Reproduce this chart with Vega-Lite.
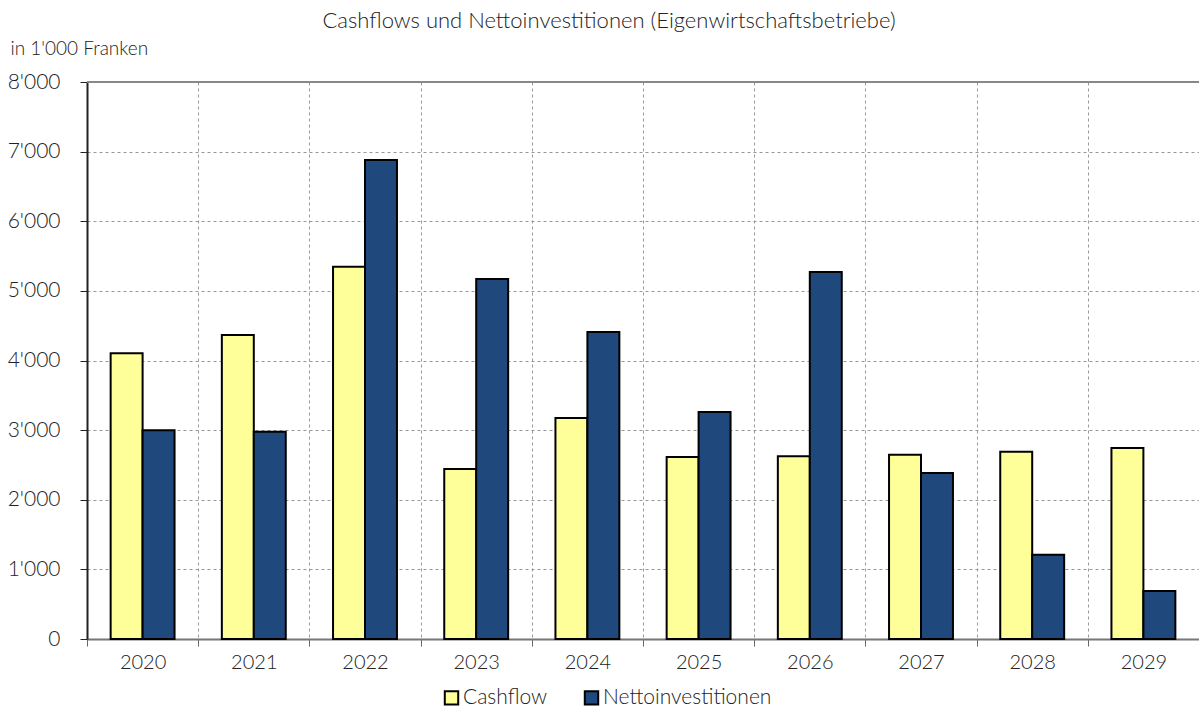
{
  "$schema": "https://vega.github.io/schema/vega-lite/v6.json",
  "width": 1112,
  "height": 557,
  "autosize": {"type": "none"},
  "padding": {"left": 87, "top": 82, "right": 0, "bottom": 71},
  "background": "white",
  "title": {
    "text": "Cashflows und Nettoinvestitionen (Eigenwirtschaftsbetriebe)",
    "fontSize": 22,
    "font": "Lato",
    "fontWeight": 300,
    "color": "#222",
    "anchor": "middle",
    "dx": -34,
    "offset": 6
  },
  "config": {
    "font": "Lato",
    "view": {"stroke": null},
    "axis": {"labelFont": "Lato", "titleFont": "Lato", "labelFontWeight": 300}
  },
  "data": {
    "values": [
      {"Jahr": "2020", "Serie": "Cashflow", "Wert": 4105},
      {"Jahr": "2020", "Serie": "Nettoinvestitionen", "Wert": 3000},
      {"Jahr": "2021", "Serie": "Cashflow", "Wert": 4365},
      {"Jahr": "2021", "Serie": "Nettoinvestitionen", "Wert": 2975},
      {"Jahr": "2022", "Serie": "Cashflow", "Wert": 5345},
      {"Jahr": "2022", "Serie": "Nettoinvestitionen", "Wert": 6880},
      {"Jahr": "2023", "Serie": "Cashflow", "Wert": 2440},
      {"Jahr": "2023", "Serie": "Nettoinvestitionen", "Wert": 5170},
      {"Jahr": "2024", "Serie": "Cashflow", "Wert": 3175},
      {"Jahr": "2024", "Serie": "Nettoinvestitionen", "Wert": 4410},
      {"Jahr": "2025", "Serie": "Cashflow", "Wert": 2615},
      {"Jahr": "2025", "Serie": "Nettoinvestitionen", "Wert": 3260},
      {"Jahr": "2026", "Serie": "Cashflow", "Wert": 2625},
      {"Jahr": "2026", "Serie": "Nettoinvestitionen", "Wert": 5270},
      {"Jahr": "2027", "Serie": "Cashflow", "Wert": 2645},
      {"Jahr": "2027", "Serie": "Nettoinvestitionen", "Wert": 2385},
      {"Jahr": "2028", "Serie": "Cashflow", "Wert": 2690},
      {"Jahr": "2028", "Serie": "Nettoinvestitionen", "Wert": 1210},
      {"Jahr": "2029", "Serie": "Cashflow", "Wert": 2745},
      {"Jahr": "2029", "Serie": "Nettoinvestitionen", "Wert": 690}
    ]
  },
  "layer": [
    {
      "mark": {"type": "bar", "stroke": "black", "strokeWidth": 2},
      "encoding": {
        "x": {
          "field": "Jahr",
          "type": "nominal",
          "scale": {"paddingInner": 0, "paddingOuter": 0},
          "axis": {
            "title": null,
            "labelAngle": 0,
            "labelFontSize": 20,
            "labelColor": "#222",
            "labelPadding": 6,
            "tickBand": "extent",
            "tickSize": 7,
            "tickColor": "#666",
            "domainColor": "#777",
            "domainWidth": 2,
            "grid": true,
            "gridColor": "#999",
            "gridDash": [3, 3],
            "gridWidth": 1
          }
        },
        "xOffset": {
          "field": "Serie",
          "type": "nominal",
          "scale": {"paddingInner": 0, "paddingOuter": 0.74}
        },
        "y": {
          "field": "Wert",
          "type": "quantitative",
          "scale": {"domain": [0, 8000], "nice": false},
          "axis": {
            "values": [0, 1000, 2000, 3000, 4000, 5000, 6000, 7000, 8000],
            "labelExpr": "replace(format(datum.value, ','), ',', \"'\")",
            "labelFontSize": 21,
            "labelColor": "#222",
            "labelPadding": 20,
            "tickSize": 7,
            "tickColor": "#222",
            "domainColor": "#222",
            "domainWidth": 2,
            "grid": true,
            "gridColor": "#999",
            "gridDash": [3, 3],
            "gridWidth": 1,
            "title": "in 1'000 Franken",
            "titleAngle": 0,
            "titleAlign": "left",
            "titleBaseline": "middle",
            "titleFontSize": 19,
            "titleFontWeight": 300,
            "titleColor": "#222",
            "titleX": -77,
            "titleY": -34
          }
        },
        "fill": {
          "field": "Serie",
          "type": "nominal",
          "scale": {"domain": ["Cashflow", "Nettoinvestitionen"], "range": ["#FFFF99", "#1F497D"]},
          "legend": {
            "title": null,
            "orient": "none",
            "direction": "horizontal",
            "legendX": 354,
            "legendY": 605,
            "symbolType": "square",
            "symbolSize": 180,
            "symbolStrokeColor": "black",
            "symbolStrokeWidth": 2,
            "labelFontSize": 21,
            "labelFontWeight": 300,
            "labelFont": "Lato",
            "labelColor": "#222",
            "labelOffset": 1,
            "labelLimit": 400,
            "columnPadding": 32
          }
        }
      }
    },
    {
      "mark": {"type": "rule", "color": "#888", "strokeWidth": 2},
      "encoding": {"y": {"datum": 8000}}
    }
  ]
}
